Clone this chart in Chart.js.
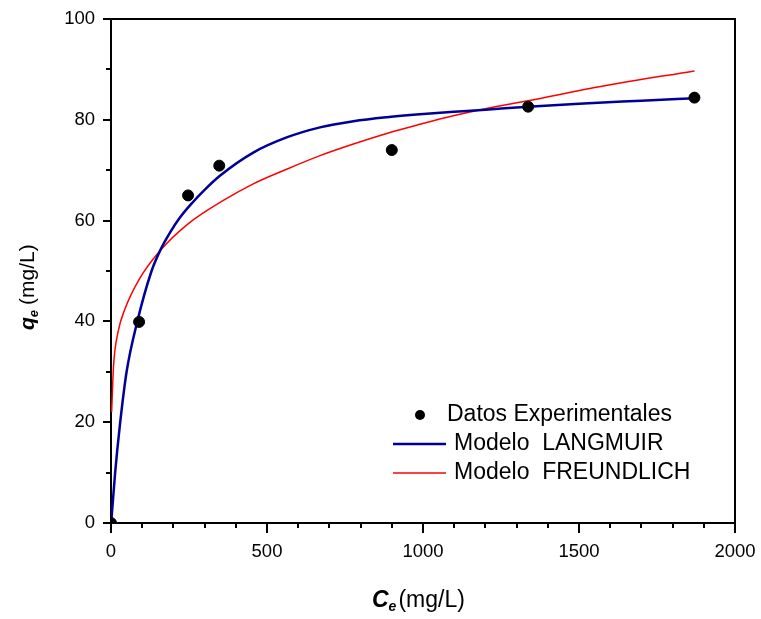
<!DOCTYPE html>
<html>
<head>
<meta charset="utf-8">
<script src="https://cdn.jsdelivr.net/npm/chart.js@4.4.1/dist/chart.umd.min.js"></script>
<style>
  html, body { margin: 0; padding: 0; background: #fff; }
  #wrap { width: 761px; height: 619px; }
</style>
</head>
<body>
<div id="wrap"><canvas id="chart" width="761" height="619"></canvas></div>
<script>
// experimental points (Ce, qe)
const expCe = [0, 90, 247, 347, 900, 1337, 1870];
const expQe = [0, 39.9, 65, 70.9, 74, 82.6, 84.4];

// Langmuir model curve
const langCe = [0, 2, 13, 29, 50, 84, 130, 157, 190, 221, 260, 300, 349, 456, 563, 670, 777, 884, 990, 1100, 1200, 1337, 1500, 1700, 1870];
const langQe = [0, 1.2, 9.8, 19.7, 30, 39.9, 50, 54, 57.7, 60.6, 63.5, 66.1, 68.9, 73.5, 76.5, 78.5, 79.7, 80.5, 81.1, 81.6, 82.0, 82.6, 83.2, 83.8, 84.3];

// Freundlich model curve
const freuCe = [2, 8, 23, 45, 88, 157, 248, 360, 456, 563, 670, 777, 884, 990, 1097, 1200, 1337, 1578, 1870];
const freuQe = [22, 31, 38, 42.5, 48.1, 54, 59.4, 64, 67.3, 70.2, 72.9, 75.2, 77.3, 79.1, 80.8, 82.2, 83.8, 86.7, 89.7];

const xTicks = [0, 500, 1000, 1500, 2000];
const yTicks = [0, 20, 40, 60, 80, 100];

const FONT = '"Liberation Sans", Arial, sans-serif';

const toXY = (xs, ys) => xs.map((x, i) => ({ x, y: ys[i] }));

const extras = {
  id: 'extras',
  afterDraw(chart) {
    const { ctx, chartArea: a, scales } = chart;
    const sx = scales.x, sy = scales.y;
    ctx.save();
    ctx.strokeStyle = '#000';
    ctx.lineWidth = 2;

    // top and right frame
    ctx.beginPath();
    ctx.moveTo(a.left, a.top);
    ctx.lineTo(a.right, a.top);
    ctx.lineTo(a.right, a.bottom);
    ctx.stroke();

    // minor ticks
    ctx.beginPath();
    for (let v = 100; v < 2000; v += 100) {
      if (v % 500 === 0) continue;
      const px = Math.round(sx.getPixelForValue(v));
      ctx.moveTo(px, a.bottom);
      ctx.lineTo(px, a.bottom + 5);
    }
    for (let v = 10; v < 100; v += 20) {
      const py = Math.round(sy.getPixelForValue(v));
      ctx.moveTo(a.left, py);
      ctx.lineTo(a.left - 5, py);
    }
    ctx.stroke();

    // legend
    const rows = [415, 444, 473];
    ctx.font = '23px ' + FONT;
    ctx.textBaseline = 'middle';
    ctx.fillStyle = '#000';
    chart.data.datasets.forEach((ds, i) => {
      const y = rows[i];
      if (ds.showLine) {
        ctx.strokeStyle = ds.borderColor;
        ctx.lineWidth = ds.borderWidth;
        ctx.beginPath();
        ctx.moveTo(393, y);
        ctx.lineTo(446, y);
        ctx.stroke();
        ctx.fillStyle = '#000';
        ctx.fillText(ds.label, 454, y);
      } else {
        ctx.fillStyle = ds.backgroundColor;
        ctx.beginPath();
        ctx.arc(420, y, 5, 0, Math.PI * 2);
        ctx.fill();
        ctx.fillStyle = '#000';
        ctx.fillText(ds.label, 447, y);
      }
    });

    // x axis title
    ctx.textBaseline = 'alphabetic';
    ctx.fillStyle = '#000';
    ctx.font = 'italic bold 23px ' + FONT;
    ctx.fillText('C', 372, 607);
    let w = ctx.measureText('C').width;
    ctx.font = 'italic bold 14px ' + FONT;
    ctx.fillText('e', 372 + w, 611);
    w += ctx.measureText('e').width;
    ctx.font = '23px ' + FONT;
    ctx.fillText('(mg/L)', 372 + w + 2, 607);

    // y axis title
    ctx.translate(34, 330);
    ctx.rotate(-Math.PI / 2);
    ctx.font = 'italic bold 21px ' + FONT;
    ctx.fillText('q', 0, 0);
    w = ctx.measureText('q').width;
    ctx.font = 'italic bold 13px ' + FONT;
    ctx.fillText('e', w, 4);
    w += ctx.measureText('e').width;
    ctx.font = '21px ' + FONT;
    ctx.fillText('(mg/L)', w + 5, 0);

    ctx.restore();
  }
};

new Chart(document.getElementById('chart'), {
  type: 'scatter',
  data: {
    datasets: [
      {
        label: 'Datos Experimentales',
        data: toXY(expCe, expQe),
        backgroundColor: '#000',
        borderColor: '#000',
        pointRadius: 5.5,
        showLine: false,
        order: 0
      },
      {
        label: 'Modelo  LANGMUIR',
        data: toXY(langCe, langQe),
        borderColor: '#000099',
        borderWidth: 2.5,
        pointRadius: 0,
        showLine: true,
        cubicInterpolationMode: 'monotone',
        order: 1
      },
      {
        label: 'Modelo  FREUNDLICH',
        data: toXY(freuCe, freuQe),
        borderColor: '#ff0000',
        borderWidth: 1.5,
        pointRadius: 0,
        showLine: true,
        cubicInterpolationMode: 'monotone',
        order: 2
      }
    ]
  },
  options: {
    responsive: false,
    animation: false,
    layout: { padding: { top: 19, right: 26, left: 0, bottom: 0 } },
    plugins: {
      legend: { display: false },
      tooltip: { enabled: false }
    },
    scales: {
      x: {
        type: 'linear',
        min: 0,
        max: 2000,
        afterBuildTicks: (scale) => { scale.ticks = xTicks.map(v => ({ value: v })); },
        afterFit: (scale) => {
          scale.height = 96;
          scale.paddingLeft = 0;
          scale.paddingRight = 0;
        },
        ticks: { color: '#000', font: { size: 18.5, family: FONT }, padding: 8, maxRotation: 0, callback: v => String(v) },
        grid: { drawOnChartArea: false, tickLength: 10, color: '#000', lineWidth: 2 },
        border: { color: '#000', width: 2 }
      },
      y: {
        min: 0,
        max: 100,
        afterBuildTicks: (scale) => { scale.ticks = yTicks.map(v => ({ value: v })); },
        afterFit: (scale) => {
          scale.width = 111;
          scale.paddingTop = 0;
          scale.paddingBottom = 0;
        },
        ticks: { color: '#000', font: { size: 18.5, family: FONT }, padding: 8, callback: v => String(v) },
        grid: { drawOnChartArea: false, tickLength: 8, color: '#000', lineWidth: 2 },
        border: { color: '#000', width: 2 }
      }
    }
  },
  plugins: [extras]
});
</script>
</body>
</html>
